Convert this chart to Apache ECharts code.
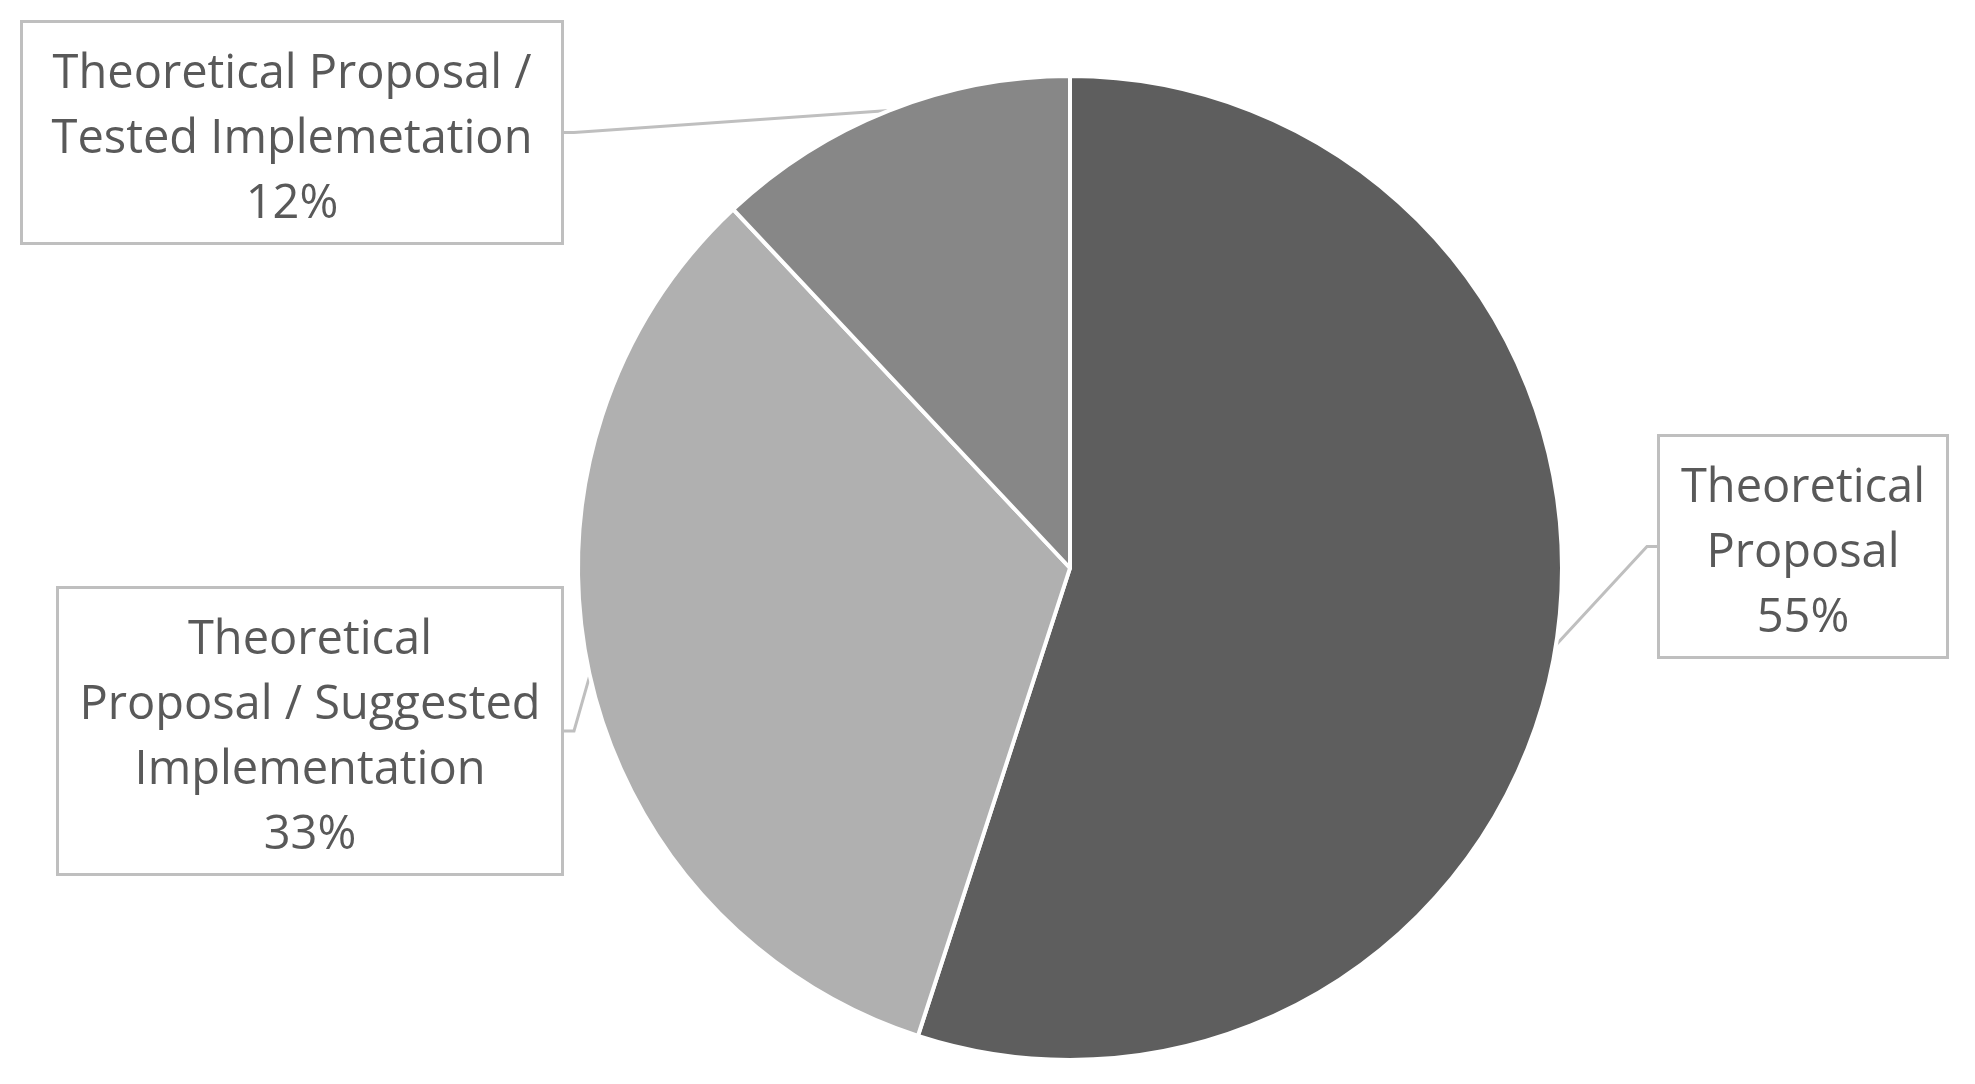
<!DOCTYPE html>
<html>
<head>
<meta charset="utf-8">
<script src="https://cdn.jsdelivr.net/npm/echarts@6/dist/echarts.min.js"></script>
<style>
  html, body { margin: 0; padding: 0; background: #fff; }
  #chart { width: 1975px; height: 1084px; }
</style>
</head>
<body>
<div id="chart"></div>
<script>
// slice names (line breaks as in the reference labels)
const categories = [
  "Theoretical\nProposal",
  "Theoretical\nProposal / Suggested\nImplementation",
  "Theoretical Proposal /\nTested Implemetation"
];
const values = [55, 33, 12];
const colors = ["#5e5e5e", "#b0b0b0", "#878787"];

// label boxes: center x, top y, width
const boxPos = [[1803, 437], [310, 589], [292, 23]];
const boxWidth = [286, 502, 538];

const chart = echarts.init(document.getElementById("chart"));

chart.setOption({
  backgroundColor: "#ffffff",
  animation: false,
  series: [
    {
      type: "pie",
      center: [1070, 568],
      radius: [0, 492],
      startAngle: 90,
      clockwise: true,
      itemStyle: {
        borderColor: "#ffffff",
        borderWidth: 4
      },
      label: {
        show: true,
        position: "outside",
        formatter: "{b}\n{d}%",
        fontFamily: "Open Sans",
        fontSize: 47,
        lineHeight: 65,
        color: "#595959",
        align: "center",
        backgroundColor: "#ffffff",
        borderColor: "#bfbfbf",
        borderWidth: 3,
        padding: [19, 0, 5, 0]
      },
      labelLine: {
        show: true,
        length: 10,
        length2: 10,
        lineStyle: { color: "#bfbfbf", width: 3 }
      },
      labelLayout: function (params) {
        const p = boxPos[params.dataIndex];
        return {
          x: p[0],
          y: p[1],
          align: "center",
          verticalAlign: "top"
        };
      },
      emphasis: { disabled: true },
      data: categories.map(function (name, i) {
        return {
          name: name,
          value: values[i],
          itemStyle: { color: colors[i] },
          label: { width: boxWidth[i] }
        };
      })
    }
  ]
});
</script>
</body>
</html>
